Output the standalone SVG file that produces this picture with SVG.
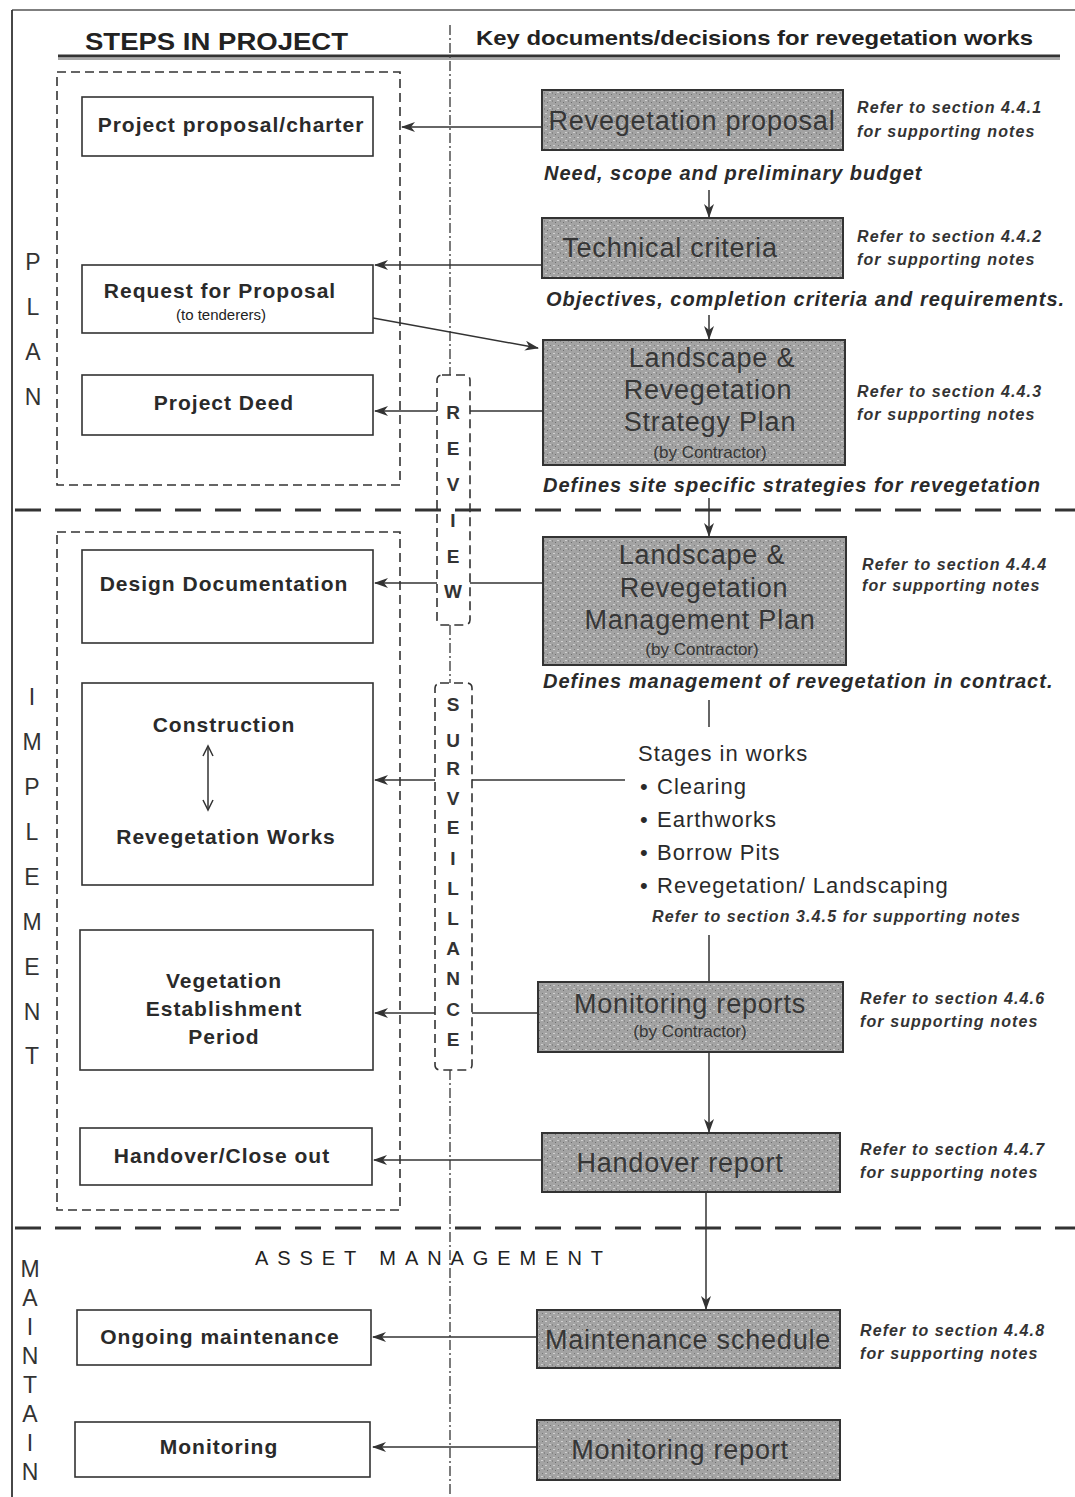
<svg xmlns="http://www.w3.org/2000/svg" width="1075" height="1497" viewBox="0 0 1075 1497">
<defs>
<style>
.t{font-family:"Liberation Sans",Arial,sans-serif;fill:#222}
.b{font-weight:bold}
.node rect.box{fill:#fff;stroke:#333;stroke-width:1.6}
.nt{font-family:"Liberation Sans",Arial,sans-serif;font-size:21px;font-weight:bold;letter-spacing:1px;fill:#2a2a2a;text-anchor:middle}
.doc rect.box{fill:url(#grain);stroke:#333;stroke-width:2}
.dt{font-family:"Liberation Sans",Arial,sans-serif;font-size:27px;letter-spacing:0.8px;fill:#363636;text-anchor:middle}
.sub{font-family:"Liberation Sans",Arial,sans-serif;font-size:17px;fill:#363636;text-anchor:middle}
.ref{font-family:"Liberation Sans",Arial,sans-serif;font-size:16px;font-style:italic;font-weight:bold;letter-spacing:1.1px;fill:#333}
.cap{font-family:"Liberation Sans",Arial,sans-serif;font-size:20px;font-style:italic;font-weight:bold;letter-spacing:1px;fill:#2a2a2a}
.st{font-family:"Liberation Sans",Arial,sans-serif;font-size:22px;letter-spacing:1px;fill:#2a2a2a}
.side{font-family:"Liberation Sans",Arial,sans-serif;font-size:23px;fill:#333;text-anchor:middle}
.vl{font-family:"Liberation Sans",Arial,sans-serif;font-size:19px;font-weight:bold;fill:#333;text-anchor:middle}
.dashbox{fill:none;stroke:#333;stroke-width:1.6;stroke-dasharray:9 5}
.sep{stroke:#333;stroke-width:3;stroke-dasharray:26 14}
.dd{stroke:#444;stroke-width:1.4;stroke-dasharray:10 3 2 3;fill:none}
.c{stroke:#333;stroke-width:1.5;fill:none}
</style>
<pattern id="grain" width="8" height="8" patternUnits="userSpaceOnUse">
<rect width="8" height="8" fill="#a3a3a3"/>
<rect x="1" y="1" width="2" height="1" fill="#d0d0d0"/>
<rect x="5" y="4" width="2" height="1" fill="#cfcfcf"/>
<rect x="3" y="6" width="1" height="1" fill="#6e6e6e"/>
<rect x="6" y="1" width="1" height="1" fill="#777"/>
<rect x="0" y="4" width="1" height="2" fill="#888"/>
</pattern>
<marker id="ah" markerWidth="14" markerHeight="10" refX="13" refY="5" orient="auto" markerUnits="userSpaceOnUse">
<path d="M0,0 L14,5 L0,10 L4,5 Z" fill="#333"/>
</marker>
</defs>

<!-- frame & headers -->
<g id="frame">
<line x1="12" y1="10" x2="1075" y2="10" stroke="#555" stroke-width="1.5"/>
<line x1="12" y1="10" x2="12" y2="1497" stroke="#333" stroke-width="1.8"/>
<text class="t b" x="85" y="50" font-size="24" textLength="263" lengthAdjust="spacingAndGlyphs">STEPS IN PROJECT</text>
<text class="t b" x="476" y="45" font-size="21" textLength="557" lengthAdjust="spacingAndGlyphs">Key documents/decisions for revegetation works</text>
<line x1="58" y1="56" x2="1060" y2="56" stroke="#333" stroke-width="3"/>
<line x1="58" y1="59" x2="1060" y2="59" stroke="#555" stroke-width="1"/>
<line class="sep" x1="15" y1="510" x2="1075" y2="510"/>
<line class="sep" x1="15" y1="1228" x2="1075" y2="1228"/>
<rect class="dashbox" x="57" y="72" width="343" height="413"/>
<rect class="dashbox" x="57" y="532" width="343" height="678"/>
</g>

<!-- phase labels -->
<g id="phase-plan">
<text class="side" x="33" y="270">P</text>
<text class="side" x="33" y="315">L</text>
<text class="side" x="33" y="360">A</text>
<text class="side" x="33" y="405">N</text>
</g>
<g id="phase-implement">
<text class="side" x="32" y="705">I</text>
<text class="side" x="32" y="750">M</text>
<text class="side" x="32" y="795">P</text>
<text class="side" x="32" y="840">L</text>
<text class="side" x="32" y="885">E</text>
<text class="side" x="32" y="930">M</text>
<text class="side" x="32" y="975">E</text>
<text class="side" x="32" y="1020">N</text>
<text class="side" x="32" y="1064">T</text>
</g>
<g id="phase-maintain">
<text class="side" x="30" y="1277">M</text>
<text class="side" x="30" y="1306">A</text>
<text class="side" x="30" y="1335">I</text>
<text class="side" x="30" y="1364">N</text>
<text class="side" x="30" y="1393">T</text>
<text class="side" x="30" y="1422">A</text>
<text class="side" x="30" y="1451">I</text>
<text class="side" x="30" y="1480">N</text>
</g>
<g id="asset-management">
<text class="t" x="255" y="1265" font-size="20" textLength="348" lengthAdjust="spacing">ASSET MANAGEMENT</text>
</g>

<!-- connectors -->
<g id="connectors">
<line class="dd" x1="450" y1="25" x2="450" y2="375"/>
<line class="dd" x1="450" y1="625" x2="450" y2="683"/>
<line class="dd" x1="450" y1="1070" x2="450" y2="1497"/>
<line class="c" x1="542" y1="127" x2="402" y2="127" marker-end="url(#ah)"/>
<line class="c" x1="542" y1="265" x2="375" y2="265" marker-end="url(#ah)"/>
<line class="c" x1="373" y1="318" x2="538" y2="348" marker-end="url(#ah)"/>
<line class="c" x1="543" y1="411" x2="470" y2="411"/>
<line class="c" x1="437" y1="411" x2="375" y2="411" marker-end="url(#ah)"/>
<line class="c" x1="543" y1="583" x2="470" y2="583"/>
<line class="c" x1="437" y1="583" x2="375" y2="583" marker-end="url(#ah)"/>
<line class="c" x1="625" y1="780" x2="472" y2="780"/>
<line class="c" x1="435" y1="780" x2="375" y2="780" marker-end="url(#ah)"/>
<line class="c" x1="538" y1="1013" x2="472" y2="1013"/>
<line class="c" x1="435" y1="1013" x2="375" y2="1013" marker-end="url(#ah)"/>
<line class="c" x1="542" y1="1160" x2="374" y2="1160" marker-end="url(#ah)"/>
<line class="c" x1="537" y1="1337" x2="373" y2="1337" marker-end="url(#ah)"/>
<line class="c" x1="537" y1="1447" x2="373" y2="1447" marker-end="url(#ah)"/>
<line class="c" x1="709" y1="190" x2="709" y2="217" marker-end="url(#ah)"/>
<line class="c" x1="709" y1="315" x2="709" y2="339" marker-end="url(#ah)"/>
<line class="c" x1="709" y1="498" x2="709" y2="536" marker-end="url(#ah)"/>
<line class="c" x1="709" y1="700" x2="709" y2="727"/>
<line class="c" x1="709" y1="935" x2="709" y2="982"/>
<line class="c" x1="709" y1="1052" x2="709" y2="1132" marker-end="url(#ah)"/>
<line class="c" x1="706" y1="1192" x2="706" y2="1309" marker-end="url(#ah)"/>
</g>

<!-- review / surveillance -->
<g id="review">
<rect class="dashbox" x="437" y="375" width="33" height="250" rx="5"/>
<text class="vl" x="453" y="419">R</text>
<text class="vl" x="453" y="455">E</text>
<text class="vl" x="453" y="491">V</text>
<text class="vl" x="453" y="527">I</text>
<text class="vl" x="453" y="563">E</text>
<text class="vl" x="453" y="598">W</text>
</g>
<g id="surveillance">
<rect class="dashbox" x="435" y="683" width="37" height="387" rx="5"/>
<text class="vl" x="453" y="711">S</text>
<text class="vl" x="453" y="747">U</text>
<text class="vl" x="453" y="775">R</text>
<text class="vl" x="453" y="805">V</text>
<text class="vl" x="453" y="834">E</text>
<text class="vl" x="453" y="865">I</text>
<text class="vl" x="453" y="895">L</text>
<text class="vl" x="453" y="925">L</text>
<text class="vl" x="453" y="955">A</text>
<text class="vl" x="453" y="985">N</text>
<text class="vl" x="453" y="1016">C</text>
<text class="vl" x="453" y="1046">E</text>
</g>

<!-- left column steps -->
<g id="n-project-proposal" class="node">
<rect class="box" x="82" y="97" width="291" height="59"/>
<text class="nt" x="231" y="132">Project proposal/charter</text>
</g>
<g id="n-request-proposal" class="node">
<rect class="box" x="82" y="265" width="291" height="68"/>
<text class="nt" x="220" y="298">Request for Proposal</text>
<text class="t" x="221" y="320" font-size="15" text-anchor="middle">(to tenderers)</text>
</g>
<g id="n-project-deed" class="node">
<rect class="box" x="82" y="375" width="291" height="60"/>
<text class="nt" x="224" y="410">Project Deed</text>
</g>
<g id="n-design-doc" class="node">
<rect class="box" x="82" y="550" width="291" height="93"/>
<text class="nt" x="224" y="591">Design Documentation</text>
</g>
<g id="n-construction" class="node">
<rect class="box" x="82" y="683" width="291" height="202"/>
<text class="nt" x="224" y="732">Construction</text>
<text class="nt" x="226" y="844">Revegetation Works</text>
<line class="c" x1="208" y1="748" x2="208" y2="808"/>
<path d="M203,756 L208,746 L213,756" class="c"/>
<path d="M203,800 L208,810 L213,800" class="c"/>
</g>
<g id="n-veg-establishment" class="node">
<rect class="box" x="80" y="930" width="293" height="140"/>
<text class="nt" x="224" y="988">Vegetation</text>
<text class="nt" x="224" y="1016">Establishment</text>
<text class="nt" x="224" y="1044">Period</text>
</g>
<g id="n-handover" class="node">
<rect class="box" x="80" y="1128" width="292" height="57"/>
<text class="nt" x="222" y="1163">Handover/Close out</text>
</g>
<g id="n-ongoing-maint" class="node">
<rect class="box" x="77" y="1310" width="294" height="55"/>
<text class="nt" x="220" y="1344">Ongoing maintenance</text>
</g>
<g id="n-monitoring" class="node">
<rect class="box" x="75" y="1422" width="295" height="55"/>
<text class="nt" x="219" y="1454">Monitoring</text>
</g>

<!-- right column documents -->
<g id="d-reveg-proposal" class="doc">
<rect class="box" x="542" y="90" width="301" height="60"/>
<text class="dt" x="692" y="130">Revegetation proposal</text>
<text class="ref" x="857" y="113">Refer to section 4.4.1</text>
<text class="ref" x="857" y="137">for supporting notes</text>
<text class="cap" x="544" y="180">Need, scope and preliminary budget</text>
</g>
<g id="d-technical-criteria" class="doc">
<rect class="box" x="542" y="218" width="301" height="60"/>
<text class="dt" x="670" y="257">Technical criteria</text>
<text class="ref" x="857" y="242">Refer to section 4.4.2</text>
<text class="ref" x="857" y="265">for supporting notes</text>
<text class="cap" x="546" y="306">Objectives, completion criteria and requirements.</text>
</g>
<g id="d-strategy-plan" class="doc">
<rect class="box" x="543" y="340" width="302" height="125"/>
<text class="dt" x="712" y="367">Landscape &amp;</text>
<text class="dt" x="708" y="399">Revegetation</text>
<text class="dt" x="710" y="431">Strategy Plan</text>
<text class="sub" x="710" y="458">(by Contractor)</text>
<text class="ref" x="857" y="397">Refer to section 4.4.3</text>
<text class="ref" x="857" y="420">for supporting notes</text>
<text class="cap" x="543" y="492">Defines site specific strategies for revegetation</text>
</g>
<g id="d-management-plan" class="doc">
<rect class="box" x="543" y="537" width="303" height="128"/>
<text class="dt" x="702" y="564">Landscape &amp;</text>
<text class="dt" x="704" y="597">Revegetation</text>
<text class="dt" x="700" y="629">Management Plan</text>
<text class="sub" x="702" y="655">(by Contractor)</text>
<text class="ref" x="862" y="570" font-size="15">Refer to section 4.4.4</text>
<text class="ref" x="862" y="591" font-size="15">for supporting notes</text>
<text class="cap" x="543" y="688">Defines management of revegetation in contract.</text>
</g>
<g id="d-stages" class="doc">
<text class="st" x="638" y="761">Stages in works</text>
<text class="st" x="640" y="794">•</text>
<text class="st" x="657" y="794">Clearing</text>
<text class="st" x="640" y="827">•</text>
<text class="st" x="657" y="827">Earthworks</text>
<text class="st" x="640" y="860">•</text>
<text class="st" x="657" y="860">Borrow Pits</text>
<text class="st" x="640" y="893">•</text>
<text class="st" x="657" y="893">Revegetation/ Landscaping</text>
<text class="ref" x="652" y="922">Refer to section 3.4.5 for supporting notes</text>
</g>
<g id="d-monitoring-reports" class="doc">
<rect class="box" x="538" y="982" width="305" height="70"/>
<text class="dt" x="690" y="1013">Monitoring reports</text>
<text class="sub" x="690" y="1037">(by Contractor)</text>
<text class="ref" x="860" y="1004">Refer to section 4.4.6</text>
<text class="ref" x="860" y="1027">for supporting notes</text>
</g>
<g id="d-handover-report" class="doc">
<rect class="box" x="542" y="1133" width="298" height="59"/>
<text class="dt" x="680" y="1172">Handover report</text>
<text class="ref" x="860" y="1155">Refer to section 4.4.7</text>
<text class="ref" x="860" y="1178">for supporting notes</text>
</g>
<g id="d-maintenance-schedule" class="doc">
<rect class="box" x="537" y="1310" width="303" height="58"/>
<text class="dt" x="688" y="1349">Maintenance schedule</text>
<text class="ref" x="860" y="1336">Refer to section 4.4.8</text>
<text class="ref" x="860" y="1359">for supporting notes</text>
</g>
<g id="d-monitoring-report" class="doc">
<rect class="box" x="537" y="1420" width="303" height="60"/>
<text class="dt" x="680" y="1459">Monitoring report</text>
</g>
</svg>
